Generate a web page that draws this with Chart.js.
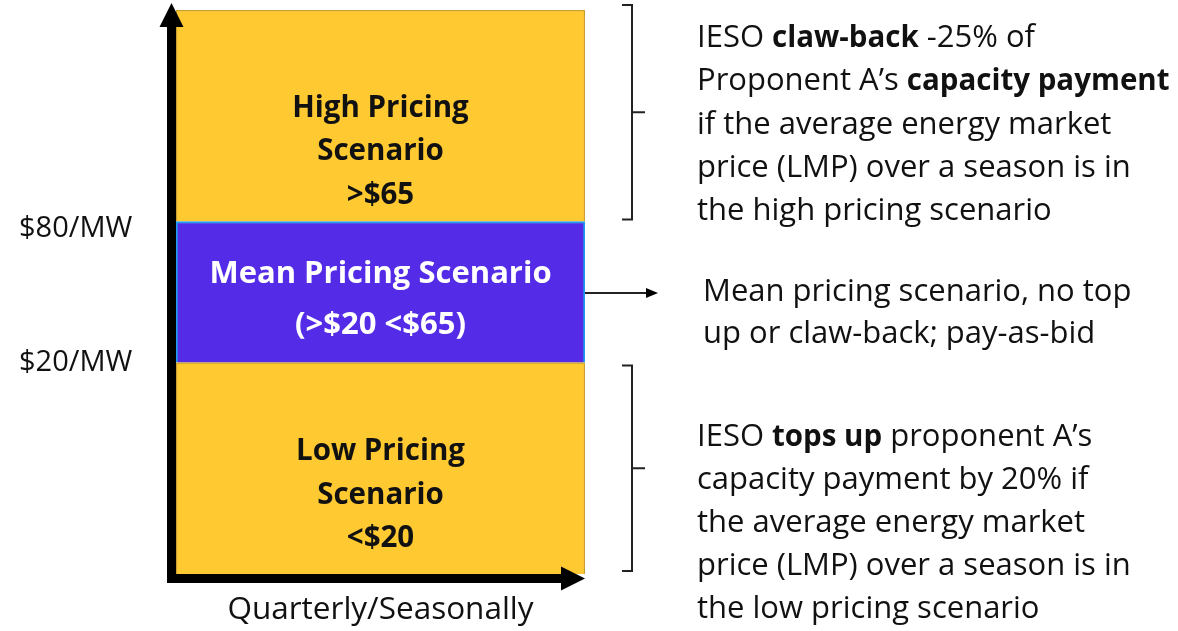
<!DOCTYPE html>
<html>
<head>
<meta charset="utf-8">
<script src="https://cdn.jsdelivr.net/npm/chart.js@4"></script>
<style>
  body { margin: 0; background: #fff; }
  canvas { display: block; }
</style>
</head>
<body>
<canvas id="pricingChart" width="1178" height="631"></canvas>
<script>
// Data
const categories = ['Quarterly/Seasonally'];
const lowValues = [3];
const meanValues = [2];
const highValues = [3];
const tickValues = [2.99, 4.9];
const tickLabels = ['$20/MW', '$80/MW'];

const segmentText = [
  ['Low Pricing', 'Scenario', '<$20'],
  ['Mean Pricing Scenario', '(>$20 <$65)'],
  ['High Pricing', 'Scenario', '>$65']
];

const highNote = [
  [['IESO ', false], ['claw-back', true], [' -25% of', false]],
  [['Proponent A\u2019s ', false], ['capacity payment', true]],
  [['if the average energy market', false]],
  [['price (LMP) over a season is in', false]],
  [['the high pricing scenario', false]]
];
const meanNote = [
  [['Mean pricing scenario, no top', false]],
  [['up or claw-back; pay-as-bid', false]]
];
const lowNote = [
  [['IESO ', false], ['tops up', true], [' proponent A\u2019s', false]],
  [['capacity payment by 20% if', false]],
  [['the average energy market', false]],
  [['price (LMP) over a season is in', false]],
  [['the low pricing scenario', false]]
];

const FONT = '"Open Sans", sans-serif';
const YELLOW = '#FFC931';
const PURPLE = '#542CE8';

// draws one line made of normal/bold runs
function drawRuns(ctx, runs, x, y) {
  let cx = x;
  runs.forEach(([text, bold]) => {
    ctx.font = bold ? 'bold 29.5px ' + FONT : '31px ' + FONT;
    ctx.fillText(text, cx, y);
    cx += ctx.measureText(text).width;
  });
}

function drawNote(ctx, lines, x, centerY, lineHeight) {
  const startY = centerY - (lines.length - 1) * lineHeight / 2;
  lines.forEach((runs, i) => drawRuns(ctx, runs, x, startY + i * lineHeight));
}

function drawBrace(ctx, x, top, bottom) {
  const mid = (top + bottom) / 2;
  ctx.beginPath();
  ctx.moveTo(x - 10, top);
  ctx.lineTo(x, top);
  ctx.lineTo(x, bottom);
  ctx.lineTo(x - 10, bottom);
  ctx.moveTo(x, mid);
  ctx.lineTo(x + 13, mid);
  ctx.stroke();
}

const decorations = {
  id: 'decorations',
  afterDatasetsDraw(chart) {
    const ctx = chart.ctx;
    const area = chart.chartArea;
    const seg = chart.data.datasets.map((ds, i) => chart.getDatasetMeta(i).data[0]);

    // labels inside each segment
    const offsets = [27, 8, 36];
    const gaps = [43.5, 51, 43.5];
    const sizes = [29.5, 31, 29.5];
    const colors = ['#111', '#fff', '#111'];
    ctx.save();
    ctx.textAlign = 'center';
    ctx.textBaseline = 'middle';
    seg.forEach((bar, i) => {
      const lines = segmentText[i];
      const cy = (bar.y + bar.base) / 2 + offsets[i];
      const startY = cy - (lines.length - 1) * gaps[i] / 2;
      ctx.fillStyle = colors[i];
      ctx.font = 'bold ' + sizes[i] + 'px ' + FONT;
      lines.forEach((t, j) => ctx.fillText(t, bar.x, startY + j * gaps[i]));
    });
    ctx.restore();

    // axis arrows
    ctx.save();
    ctx.fillStyle = '#000';
    ctx.fillRect(area.left - 9, area.top + 14, 9, area.bottom - area.top - 10);
    ctx.beginPath();
    ctx.moveTo(area.left - 4.5, area.top - 7);
    ctx.lineTo(area.left - 16.5, area.top + 17);
    ctx.lineTo(area.left + 7.5, area.top + 17);
    ctx.closePath();
    ctx.fill();
    ctx.fillRect(area.left - 9, area.bottom, area.right - area.left - 14, 9);
    ctx.beginPath();
    ctx.moveTo(area.right, area.bottom + 4.5);
    ctx.lineTo(area.right - 24, area.bottom - 7.5);
    ctx.lineTo(area.right - 24, area.bottom + 16.5);
    ctx.closePath();
    ctx.fill();
    ctx.restore();

    // braces, arrow and notes on the right
    ctx.save();
    ctx.strokeStyle = '#222';
    ctx.lineWidth = 2;
    const high = seg[2], mean = seg[1], low = seg[0];
    drawBrace(ctx, 632, high.y - 5, high.base - 2);
    drawBrace(ctx, 632, low.y + 3, low.base - 3);
    const ay = (mean.y + mean.base) / 2 + 1;
    ctx.beginPath();
    ctx.moveTo(area.right, ay);
    ctx.lineTo(648, ay);
    ctx.stroke();
    ctx.fillStyle = '#000';
    ctx.beginPath();
    ctx.moveTo(658, ay);
    ctx.lineTo(646, ay - 5);
    ctx.lineTo(646, ay + 5);
    ctx.closePath();
    ctx.fill();

    ctx.fillStyle = '#111';
    ctx.textAlign = 'left';
    ctx.textBaseline = 'middle';
    drawNote(ctx, highNote, 697, (high.y + high.base) / 2 + 9, 43.3);
    drawNote(ctx, meanNote, 703, ay + 20, 42);
    drawNote(ctx, lowNote, 697, (low.y + low.base) / 2 + 55, 43);
    ctx.restore();
  }
};

new Chart(document.getElementById('pricingChart'), {
  type: 'bar',
  data: {
    labels: categories,
    datasets: [
      {
        label: 'Low Pricing Scenario',
        data: lowValues,
        backgroundColor: YELLOW,
        borderColor: '#C9A030',
        borderWidth: 1.5
      },
      {
        label: 'Mean Pricing Scenario',
        data: meanValues,
        backgroundColor: PURPLE,
        borderColor: '#1E9BF0',
        borderWidth: 2
      },
      {
        label: 'High Pricing Scenario',
        data: highValues,
        backgroundColor: YELLOW,
        borderColor: '#C9A030',
        borderWidth: 1.5
      }
    ]
  },
  options: {
    responsive: false,
    animation: false,
    layout: {
      padding: { left: 19, top: 10, right: 593, bottom: 0 }
    },
    datasets: {
      bar: { barPercentage: 1, categoryPercentage: 1 }
    },
    plugins: {
      legend: { display: false },
      tooltip: { enabled: false }
    },
    scales: {
      x: {
        stacked: true,
        grid: { display: false },
        border: { display: false },
        ticks: { display: false },
        title: {
          display: true,
          text: categories[0],
          color: '#111',
          font: { family: FONT, size: 31.5 },
          padding: { top: 16, bottom: 2 }
        },
        afterFit(scale) { scale.height = 57; }
      },
      y: {
        stacked: true,
        min: 0,
        max: 8,
        grid: { display: false },
        border: { display: false },
        afterBuildTicks(scale) {
          scale.ticks = tickValues.map(v => ({ value: v }));
        },
        ticks: {
          crossAlign: 'far',
          color: '#111',
          font: { family: FONT, size: 29 },
          callback(value) {
            const i = tickValues.indexOf(value);
            return i >= 0 ? tickLabels[i] : '';
          }
        },
        afterFit(scale) {
          scale.width = 157;
          scale.paddingTop = 0;
          scale.paddingBottom = 0;
        }
      }
    }
  },
  plugins: [decorations]
});
</script>
</body>
</html>
